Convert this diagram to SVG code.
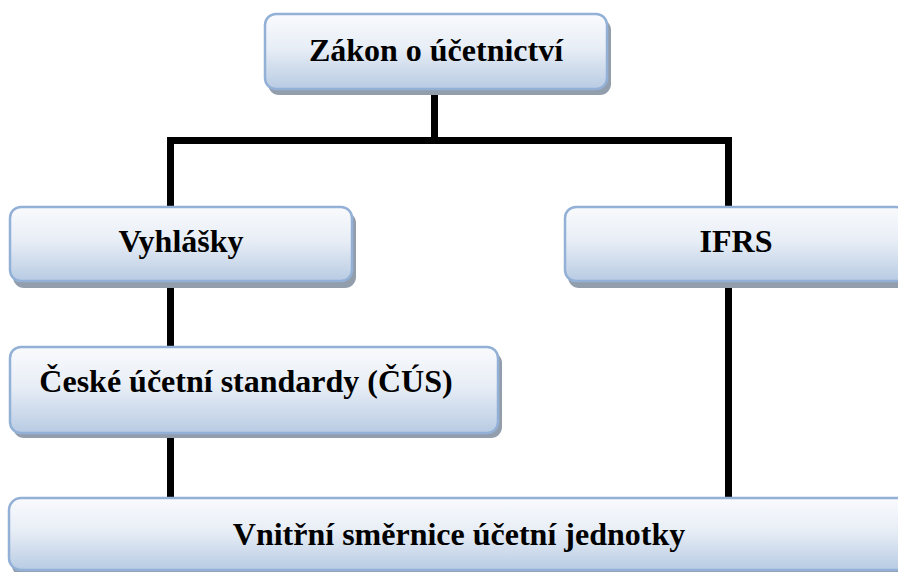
<svg xmlns="http://www.w3.org/2000/svg" width="898" height="572" viewBox="0 0 898 572">
<defs>
<linearGradient id="g" x1="0" y1="0" x2="0" y2="1">
<stop offset="0" stop-color="#f9fafd"/>
<stop offset="0.45" stop-color="#e8eef6"/>
<stop offset="1" stop-color="#b8cbe3"/>
</linearGradient>
<style>
.sh{fill:#939eac}
.bx{fill:url(#g);stroke:#93b0d6;stroke-width:2.5}
.t{font-family:"Liberation Serif","Times New Roman",serif;font-weight:bold;font-size:32px;fill:#000;text-anchor:middle}
.c{stroke:#000;stroke-width:7;fill:none}
</style>
</defs>
<rect width="898" height="572" fill="#fff"/>
<g id="connectors">
<path class="c" d="M434.5 89 V140.5 M167 140.5 H732 M170.5 140.5 V207 M728.5 140.5 V207 M170.5 281 V347 M170.5 433 V498 M728.5 281 V498"/>
</g>
<g id="zakon">
<rect class="sh" x="268" y="19" width="343" height="76" rx="11"/>
<rect class="bx" x="265" y="14" width="342" height="75" rx="11"/>
<text class="t" x="436" y="61">Zákon o účetnictví</text>
</g>
<g id="vyhlasky">
<rect class="sh" x="13" y="212" width="343" height="76" rx="11"/>
<rect class="bx" x="10" y="207" width="342" height="74" rx="11"/>
<text class="t" x="181" y="252">Vyhlášky</text>
</g>
<g id="ifrs">
<rect class="sh" x="568" y="212" width="345" height="76" rx="11"/>
<rect class="bx" x="565" y="207" width="342" height="74" rx="11"/>
<text class="t" x="736" y="252">IFRS</text>
</g>
<g id="cus">
<rect class="sh" x="13" y="352" width="489" height="86" rx="11"/>
<rect class="bx" x="10" y="347" width="488" height="86" rx="11"/>
<text class="t" x="246" y="392">České účetní standardy (ČÚS)</text>
</g>
<g id="vnitrni">
<rect class="sh" x="12" y="503" width="900" height="74" rx="12"/>
<rect class="bx" x="9" y="498" width="900" height="72" rx="12"/>
<text class="t" x="459" y="545">Vnitřní směrnice účetní jednotky</text>
</g>
</svg>
